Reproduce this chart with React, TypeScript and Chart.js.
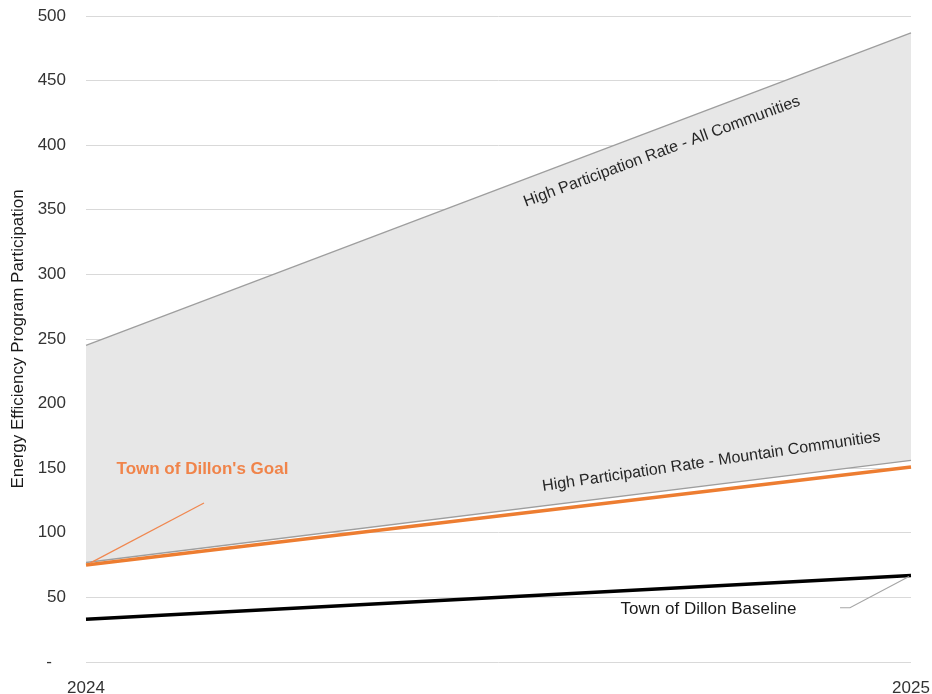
import React, { useEffect, useRef } from "react";
import { Chart, registerables } from "chart.js";

Chart.register(...registerables);

const years = ["2024", "2025"];
const allCommunities = [245, 487];
const mountainCommunities = [77, 156];
const dillonGoal = [75, 151];
const dillonBaseline = [33, 67];
const yTicks = [0, 50, 100, 150, 200, 250, 300, 350, 400, 450, 500];

const FONT = "'Liberation Sans', Arial, sans-serif";

const annotationPlugin = {
  id: "annotations",
  afterDatasetsDraw(chart: any) {
    const { ctx, chartArea } = chart;
    const x = chart.scales.x;
    const y = chart.scales.y;
    const px = (f: number) => chartArea.left + f * (chartArea.right - chartArea.left);
    ctx.save();
    // leader lines
    ctx.lineWidth = 1.2;
    ctx.strokeStyle = "#F0874F";
    ctx.beginPath();
    ctx.moveTo(x.getPixelForValue(0) + 4, y.getPixelForValue(dillonGoal[0]) - 2);
    ctx.lineTo(px(0.143), y.getPixelForValue(123));
    ctx.stroke();
    ctx.strokeStyle = "#a6a6a6";
    ctx.beginPath();
    ctx.moveTo(x.getPixelForValue(1) - 2, y.getPixelForValue(dillonBaseline[1]) + 1);
    ctx.lineTo(px(0.926), y.getPixelForValue(42));
    ctx.lineTo(px(0.914), y.getPixelForValue(42));
    ctx.stroke();

    const rotText = (t: string, cx: number, cy: number, ang: number, font: string, color: string) => {
      ctx.save();
      ctx.translate(cx, cy);
      ctx.rotate((ang * Math.PI) / 180);
      ctx.font = font;
      ctx.fillStyle = color;
      ctx.textAlign = "center";
      ctx.textBaseline = "middle";
      ctx.fillText(t, 0, 0);
      ctx.restore();
    };
    rotText("High Participation Rate - All Communities", px(0.698), y.getPixelForValue(395), -20.3, `16px ${FONT}`, "#262626");
    rotText("High Participation Rate - Mountain Communities", px(0.758), y.getPixelForValue(155), -8.4, `16px ${FONT}`, "#262626");
    ctx.font = `bold 17px ${FONT}`;
    ctx.fillStyle = "#F0844A";
    ctx.textAlign = "left";
    ctx.textBaseline = "middle";
    ctx.fillText("Town of Dillon's Goal", px(0.037), y.getPixelForValue(149));
    ctx.font = `17px ${FONT}`;
    ctx.fillStyle = "#1a1a1a";
    ctx.fillText("Town of Dillon Baseline", px(0.648), y.getPixelForValue(40.5));
    ctx.restore();
  },
};

export default function App() {
  const ref = useRef<HTMLCanvasElement | null>(null);
  useEffect(() => {
    document.body.style.margin = "0";
    const chart = new Chart(ref.current as HTMLCanvasElement, {
      type: "line",
      data: {
        labels: years,
        datasets: [
          {
            label: "High Participation Rate - All Communities",
            data: allCommunities,
            borderColor: "#9e9e9e",
            borderWidth: 1.3,
            backgroundColor: "#e7e7e7",
            fill: "+1",
            pointRadius: 0,
            order: 3,
          },
          {
            label: "High Participation Rate - Mountain Communities",
            data: mountainCommunities,
            borderColor: "#9e9e9e",
            borderWidth: 1.3,
            fill: false,
            pointRadius: 0,
            order: 2,
          },
          {
            label: "Town of Dillon's Goal",
            data: dillonGoal,
            borderColor: "#ED7D31",
            borderWidth: 3.5,
            fill: false,
            pointRadius: 0,
            order: 1,
          },
          {
            label: "Town of Dillon Baseline",
            data: dillonBaseline,
            borderColor: "#000000",
            borderWidth: 3.5,
            fill: false,
            pointRadius: 0,
            order: 0,
          },
        ],
      },
      options: {
        animation: false,
        responsive: false,
        maintainAspectRatio: false,
        layout: { padding: { top: 16, right: 21, bottom: 0, left: 0 } },
        plugins: {
          legend: { display: false },
          tooltip: { enabled: false },
        },
        scales: {
          x: {
            offset: false,
            grid: { display: false },
            border: { display: false },
            ticks: {
              font: { family: FONT, size: 17 },
              color: "#333333",
              padding: 8,
              maxRotation: 0,
            },
            afterFit: (s: any) => {
              s.height = 32;
              s.paddingLeft = 0;
              s.paddingRight = 0;
            },
          },
          y: {
            min: 0,
            max: 500,
            afterBuildTicks: (s: any) => {
              s.ticks = yTicks.map((v) => ({ value: v }));
            },
            grid: { color: "#d9d9d9", lineWidth: 1, drawTicks: false },
            border: { display: false },
            ticks: {
              font: { family: FONT, size: 17 },
              color: "#333333",
              padding: 20,
              callback: (v: any) => (Number(v) === 0 ? "-   " : String(v)),
            },
            title: {
              display: true,
              text: "Energy Efficiency Program Participation",
              font: { family: FONT, size: 17 },
              color: "#1a1a1a",
              padding: { top: 8, bottom: 0 },
            },
            afterFit: (s: any) => {
              s.width = 86;
              s.paddingTop = 0;
              s.paddingBottom = 0;
            },
          },
        },
      },
      plugins: [annotationPlugin],
    } as any);
    return () => chart.destroy();
  }, []);
  return (
    <div style={{ width: 932, height: 694, background: "#fff" }}>
      <canvas ref={ref} width={932} height={694} />
    </div>
  );
}
